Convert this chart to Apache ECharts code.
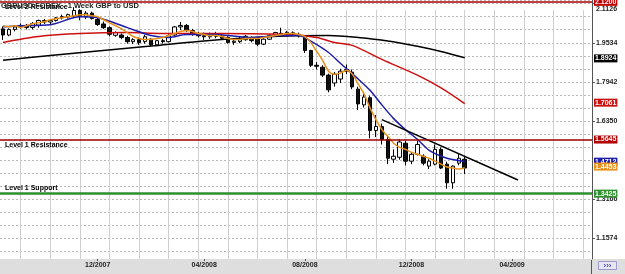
<!DOCTYPE html>
<html>
<head>
<meta charset="utf-8">
<script src="https://cdn.jsdelivr.net/npm/echarts@6/dist/echarts.min.js"></script>
<style>
html, body { margin: 0; padding: 0; background: #fff; }
#main { width: 625px; height: 274px; }
</style>
</head>
<body>
<div id="main"></div>
<script>
(function () {
    'use strict';

    // weekly GBP/USD candles, first bar = week of 2007-08-12
    var opens = [2.010, 1.985, 2.008, 2.018, 2.024, 2.016, 2.025, 2.044, 2.038, 2.044,
        2.055, 2.058, 2.062, 2.085, 2.060, 2.074, 2.048, 2.030, 2.015, 1.984,
        1.985, 1.975, 1.958, 1.966, 1.958, 1.968, 1.945, 1.962, 1.958, 1.985,
        2.018, 2.024, 2.003, 1.988, 1.982, 1.978, 1.988, 1.980, 1.975, 1.955,
        1.958, 1.966, 1.975, 1.970, 1.948, 1.968, 1.982, 1.992, 1.988, 1.994,
        1.988, 1.975, 1.922, 1.862, 1.854, 1.822, 1.790, 1.806, 1.838, 1.834,
        1.765, 1.701, 1.730, 1.597, 1.613, 1.560, 1.480, 1.488, 1.545, 1.472,
        1.500, 1.492, 1.452, 1.460, 1.520, 1.460, 1.384, 1.464, 1.480];
    var highs = [2.020, 2.012, 2.025, 2.032, 2.030, 2.038, 2.048, 2.050, 2.048, 2.058,
        2.068, 2.072, 2.098, 2.090, 2.082, 2.080, 2.056, 2.040, 2.020, 2.000,
        1.992, 1.982, 1.972, 1.975, 1.985, 1.972, 1.965, 1.970, 1.988, 2.022,
        2.038, 2.030, 2.010, 1.998, 1.995, 1.995, 1.998, 1.990, 1.980, 1.968,
        1.978, 1.985, 1.980, 1.975, 1.972, 1.988, 1.998, 2.015, 2.002, 2.000,
        1.995, 1.978, 1.925, 1.875, 1.862, 1.828, 1.835, 1.848, 1.865, 1.845,
        1.775, 1.745, 1.738, 1.660, 1.625, 1.575, 1.520, 1.560, 1.555, 1.510,
        1.555, 1.500, 1.480, 1.540, 1.528, 1.470, 1.455, 1.500, 1.492];
    var lows = [1.965, 1.980, 2.000, 2.010, 2.008, 2.008, 2.015, 2.030, 2.030, 2.040,
        2.048, 2.052, 2.058, 2.045, 2.050, 2.048, 2.022, 2.010, 1.980, 1.978,
        1.968, 1.950, 1.948, 1.945, 1.950, 1.938, 1.940, 1.950, 1.955, 1.982,
        2.005, 1.998, 1.982, 1.975, 1.965, 1.970, 1.972, 1.965, 1.950, 1.945,
        1.952, 1.962, 1.955, 1.940, 1.944, 1.965, 1.978, 1.985, 1.980, 1.982,
        1.975, 1.912, 1.855, 1.845, 1.815, 1.752, 1.775, 1.790, 1.826, 1.765,
        1.680, 1.690, 1.565, 1.570, 1.540, 1.460, 1.465, 1.478, 1.455, 1.460,
        1.495, 1.455, 1.440, 1.455, 1.440, 1.360, 1.360, 1.455, 1.420];
    var closes = [1.985, 2.008, 2.018, 2.024, 2.016, 2.032, 2.044, 2.038, 2.044, 2.055,
        2.060, 2.068, 2.085, 2.060, 2.074, 2.052, 2.028, 2.015, 1.988, 1.995,
        1.975, 1.958, 1.966, 1.955, 1.978, 1.945, 1.962, 1.958, 1.982, 2.018,
        2.024, 2.003, 1.988, 1.982, 1.978, 1.988, 1.980, 1.972, 1.955, 1.960,
        1.966, 1.980, 1.962, 1.948, 1.968, 1.982, 1.995, 1.988, 1.996, 1.990,
        1.982, 1.922, 1.862, 1.858, 1.822, 1.762, 1.826, 1.838, 1.845, 1.774,
        1.705, 1.733, 1.597, 1.613, 1.560, 1.484, 1.492, 1.550, 1.472, 1.500,
        1.540, 1.464, 1.472, 1.520, 1.444, 1.384, 1.452, 1.484, 1.444];

    // moving averages
    var maOrange = [2.023, 2.019, 2.023, 2.015, 2.023, 2.031, 2.035, 2.039, 2.047, 2.051,
        2.055, 2.059, 2.063, 2.067, 2.067, 2.063, 2.059, 2.047, 2.035, 2.023,
        2.011, 1.995, 1.979, 1.971, 1.967, 1.967, 1.971, 1.975, 1.983, 1.991,
        1.999, 2.003, 1.999, 1.991, 1.987, 1.983, 1.983, 1.979, 1.971, 1.967,
        1.967, 1.971, 1.971, 1.971, 1.975, 1.979, 1.983, 1.987, 1.991, 1.991,
        1.987, 1.979, 1.955, 1.918, 1.882, 1.838, 1.826, 1.830, 1.842, 1.826,
        1.786, 1.746, 1.689, 1.641, 1.601, 1.573, 1.545, 1.528, 1.520, 1.508,
        1.500, 1.492, 1.484, 1.472, 1.460, 1.448, 1.444, 1.440, 1.4453];
    var maBlue = [[0, 2.019], [3, 2.023], [8, 2.027], [13, 2.059], [16, 2.055], [21, 2.015],
        [25, 1.983], [28, 1.975], [31, 1.987], [36, 1.987], [38, 1.983], [42, 1.975],
        [47, 1.983], [50, 1.983], [52, 1.960], [55, 1.914], [57, 1.870], [60, 1.806],
        [62, 1.760], [64, 1.701], [66, 1.645], [68, 1.600], [70, 1.561], [72, 1.516],
        [75, 1.484], [78, 1.4712]];
    var maRed = [[0, 1.955], [6, 1.979], [13, 1.991], [21, 1.995], [27, 1.991], [37, 1.991],
        [48, 1.987], [53, 1.975], [56, 1.955], [59, 1.943], [64, 1.886], [70, 1.822],
        [74, 1.770], [78, 1.7061]];
    var maBlack = [[0, 1.882], [8, 1.902], [16, 1.920], [25, 1.940], [33, 1.959], [41, 1.973],
        [48, 1.981], [55, 1.983], [60, 1.975], [65, 1.961], [70, 1.939], [74, 1.918],
        [78, 1.8924]];
    var trendLine = [[64, 1.641], [87, 1.3954]];

    var level2Res = 2.1200;
    var level1Res = 1.5645;
    var level1Sup = 1.3425;

    var priceLabels = [1.1574, 1.3166, 1.6350, 1.7942, 1.9534, 2.1126];
    var priceStep = 0.053067;     // dotted grid every third of a label step
    var firstPriceLine = 1.104333;
    var weekStep = 5;             // grid every 5 weeks
    var firstWeekLine = 3;
    var monthTicks = ['2007-12-02', '2008-04-06', '2008-08-03', '2008-12-07', '2009-04-05'];

    var FONT = 'Liberation Sans';
    var Y_MIN = 1.07418, Y_MAX = 2.12746;
    var PX = 262 / (Y_MAX - Y_MIN);   // pixels per price unit in main grid
    var WEEK_PX = 592 / 100;          // pixels per weekly bar
    var STRIP = '#dedede';

    var firstWeek = Date.UTC(2007, 7, 12);
    var weeks = [];
    for (var i = 0; i < 100; i++) {
        weeks.push(new Date(firstWeek + i * 7 * 864e5).toISOString().slice(0, 10));
    }

    var candles = [];
    for (var j = 0; j < opens.length; j++) {
        candles.push([opens[j], closes[j], lows[j], highs[j]]);
    }

    function badge(value, bg) {
        return {
            yAxis: value,
            lineStyle: { color: 'transparent', width: 1 },
            label: {
                show: true, position: 'end', distance: 2,
                formatter: value.toFixed(4),
                backgroundColor: bg, color: '#fff',
                fontFamily: FONT, fontWeight: 'bold', fontSize: 7,
                padding: [1, 1, 0, 1]
            }
        };
    }

    function levelLine(value, name, color, width, pos) {
        return {
            yAxis: value,
            lineStyle: { color: color, width: width, type: 'solid' },
            label: {
                show: true, position: pos, distance: [5, 2],
                formatter: name, color: '#000',
                fontFamily: FONT, fontWeight: 'bold', fontSize: 7
            }
        };
    }

    function maSeries(name, data, color) {
        var last = data[data.length - 1];
        last = Array.isArray(last) ? last[1] : last;
        return {
            name: name, type: 'line', data: data,
            symbol: 'none', smooth: 0.3, clip: false, z: 3,
            lineStyle: { color: color, width: 1.5 },
            markLine: { silent: true, symbol: ['none', 'none'], animation: false, data: [badge(last, color)] }
        };
    }

    function emptyAxis(gridIndex) {
        return {
            type: 'value', gridIndex: gridIndex, min: 0, max: 1,
            axisLine: { show: false }, axisTick: { show: false }, axisLabel: { show: false },
            splitLine: { show: false }
        };
    }

    // helper grids that only draw the lattice; their first edge sits on a line
    // so that ticks counted from min fall on every grid line
    var hBottom = 274 - (259 - (firstPriceLine - Y_MIN) * PX);
    var vLeft = (firstWeekLine + 0.5) * WEEK_PX;

    var chart = echarts.init(document.getElementById('main'));
    var option = {
        animation: false,
        backgroundColor: '#fff',
        title: {
            text: 'GBPUSD.FOREX - 1 Week GBP to USD',
            left: 1, top: 2, padding: 0,
            textStyle: { fontFamily: FONT, fontSize: 7.5, fontWeight: 'bold', color: '#222' }
        },
        grid: [
            { left: 0, right: 33, top: -3, bottom: 15 },
            { left: 0, right: 33, top: -3, bottom: hBottom },
            { left: vLeft, right: 33, top: 10, bottom: 15 }
        ],
        xAxis: [{
            type: 'category',
            gridIndex: 0,
            data: weeks,
            boundaryGap: true,
            z: 5,
            axisLine: { show: false },
            axisTick: {
                show: true, alignWithLabel: true, length: 2,
                interval: function (idx, val) { return monthTicks.indexOf(val) >= 0; },
                lineStyle: { color: '#555' }
            },
            axisLabel: {
                interval: function (idx, val) { return monthTicks.indexOf(val) >= 0; },
                formatter: function (val) { return val.slice(5, 7) + '/' + val.slice(0, 4); },
                margin: 3, fontFamily: FONT, fontSize: 7, fontWeight: 'bold', color: '#222'
            },
            splitLine: { show: false }
        },
            emptyAxis(1),
        {
            type: 'value',
            gridIndex: 2,
            min: firstWeekLine,
            max: 99.5,
            interval: weekStep,
            axisLine: { show: true, lineStyle: { color: STRIP } },
            axisTick: { show: true, lineStyle: { color: STRIP } },
            axisLabel: { show: true, fontSize: 6, color: STRIP },
            splitLine: { show: true, lineStyle: { color: '#cfcfcf', type: 'solid', width: 1 } }
        }],
        yAxis: [{
            type: 'value', gridIndex: 0, position: 'right',
            min: Y_MIN, max: Y_MAX,
            axisLine: { show: true, lineStyle: { color: '#555', width: 1 } },
            axisTick: { show: true, customValues: priceLabels, length: 3, lineStyle: { color: '#555' } },
            axisLabel: {
                customValues: priceLabels, margin: 4,
                fontFamily: FONT, fontSize: 7, fontWeight: 'bold', color: '#222',
                formatter: function (v) {
                    var s = v.toFixed(4);
                    return v > 2.1 ? '{top|' + s + '}' : s;
                },
                rich: { top: { padding: [10, 0, 0, 0], fontFamily: FONT, fontSize: 7, fontWeight: 'bold', color: '#222' } }
            },
            splitLine: { show: false }
        }, {
            type: 'value', gridIndex: 1,
            min: firstPriceLine, max: Y_MAX, interval: priceStep,
            axisLine: { show: false }, axisTick: { show: false }, axisLabel: { show: false },
            splitLine: { show: true, lineStyle: { color: '#b8b8b8', type: [2, 2], width: 1 } }
        },
            emptyAxis(2)
        ],
        series: [{
            name: 'GBPUSD', type: 'candlestick', data: candles,
            barWidth: 4, clip: false, z: 2,
            itemStyle: { color: '#fff', color0: '#111', borderColor: '#000', borderColor0: '#000', borderWidth: 1 },
            markLine: {
                silent: true, symbol: ['none', 'none'], animation: false,
                data: [
                    levelLine(level2Res, 'Level 2 Resistance', '#b00000', 1.5, 'insideStartBottom'),
                    badge(level2Res, '#c00000'),
                    levelLine(level1Res, 'Level 1 Resistance', '#9a0000', 1.5, 'insideStartBottom'),
                    badge(level1Res, '#b00000'),
                    levelLine(level1Sup, 'Level 1 Support', '#2f8f2f', 2.5, 'insideStartTop'),
                    badge(level1Sup, '#2f8f2f')
                ]
            }
        },
            maSeries('MA long', maBlack, '#000'),
            maSeries('MA mid', maRed, '#cc1010'),
            maSeries('MA short', maBlue, '#1c1ca8'),
            maSeries('MA fast', maOrange, '#e8901c'),
            {
                name: 'Trend', type: 'line', data: trendLine, symbol: 'none', z: 4,
                lineStyle: { color: '#000', width: 1.5 }
            }
        ],
        graphic: [
            { type: 'rect', z: -10, silent: true, shape: { x: 0, y: 259, width: 625, height: 15 }, style: { fill: STRIP } },
            { type: 'line', silent: true, shape: { x1: 591.5, y1: 259, x2: 591.5, y2: 274 }, style: { stroke: '#555', lineWidth: 1 } },
            {
                type: 'group', left: 598, top: 261,
                children: [{
                    type: 'rect',
                    shape: { x: 0, y: 0, width: 18, height: 8 },
                    style: { fill: '#e6e6f6', stroke: '#9a9ad0', lineWidth: 1 }
                }, {
                    type: 'text', x: 9, y: 4,
                    style: {
                        text: '›››', fill: '#4a4ac8',
                        font: 'bold 8px "Liberation Sans"',
                        align: 'center', verticalAlign: 'middle'
                    }
                }]
            }
        ]
    };
    chart.setOption(option);
}());
</script>
</body>
</html>
